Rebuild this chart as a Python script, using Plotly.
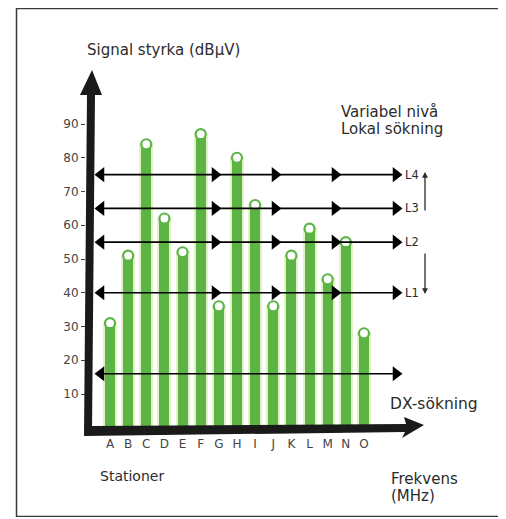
import plotly.graph_objects as go

# ---- data ----
stations = ["A", "B", "C", "D", "E", "F", "G", "H", "I", "J", "K", "L", "M", "N", "O"]
signal = [31, 51, 84, 62, 52, 87, 36, 80, 66, 36, 51, 59, 44, 55, 28]
local_levels = [75, 65, 55, 40]
local_labels = ["L4", "L3", "L2", "L1"]
dx_level = 16
y_ticks = [10, 20, 30, 40, 50, 60, 70, 80, 90]

# ---- layout geometry (screen pixels; page body has an 8px margin) ----
OFF = 8
FW, FH = 490, 509
PL, PT, PR, PB = 86, 60, 440, 435          # plot area edges on screen
ML, MT = PL - OFF, PT - OFF
MR, MB = FW - (PR - OFF), FH - (PB - OFF)
W, H = PR - PL, PB - PT
X0_PX, DX_PX = 110.0, 18.14          # pixel of first station, station spacing
Y0_PX, DY_PX = 427.75, 3.375         # pixel of value 0, pixels per unit

x_range = [(PL - X0_PX) / DX_PX, (PR - X0_PX) / DX_PX]
y_range = [(Y0_PX - PB) / DY_PX, (Y0_PX - PT) / DY_PX]

def px(x):
    return (x - PL) / W

def py(y):
    return (PB - y) / H

def dx(p):
    return (p - X0_PX) / DX_PX

GREEN = "#5cb445"
PALE = "#e2f2c6"
INK = "#2b2b2b"
FONT = "DejaVu Sans"

xs = list(range(len(stations)))
fig = go.Figure()

# bars
fig.add_trace(go.Bar(
    x=xs, y=signal, width=0.66,
    marker=dict(color=GREEN, line=dict(color=PALE, width=2)),
    hoverinfo="skip", showlegend=False,
))
# bar top circles
fig.add_trace(go.Scatter(
    x=xs, y=signal, mode="markers",
    marker=dict(symbol="circle", size=10, color="white", line=dict(color=GREEN, width=2.2)),
    hoverinfo="skip", showlegend=False,
))

# level lines
left_x, right_x = dx(96), dx(401)
head_l, head_r = dx(101), dx(396)
mids = [dx(215), dx(275), dx(335)]
for lv in local_levels + [dx_level]:
    fig.add_trace(go.Scatter(
        x=[left_x, right_x], y=[lv, lv], mode="lines",
        line=dict(color="black", width=1.6), hoverinfo="skip", showlegend=False,
    ))
    fig.add_trace(go.Scatter(
        x=[head_l], y=[lv], mode="markers",
        marker=dict(symbol="triangle-left", size=13, color="black"),
        hoverinfo="skip", showlegend=False,
    ))
    rx = [head_r] + (mids if lv != dx_level else [])
    fig.add_trace(go.Scatter(
        x=rx, y=[lv] * len(rx), mode="markers",
        marker=dict(symbol="triangle-right", size=13, color="black"),
        hoverinfo="skip", showlegend=False,
    ))

shapes = []
# frame (left, top and bottom edges)
for (a, b, c, d) in [(16, 8.5, 498, 8.5), (16.5, 8, 16.5, 517), (16, 516.5, 498, 516.5)]:
    shapes.append(dict(type="line", xref="paper", yref="paper",
                       x0=px(a), y0=py(b), x1=px(c), y1=py(d),
                       line=dict(color="#3a3a3a", width=1.5)))

def path(pts):
    return "M " + " L ".join(f"{px(a):.5f},{py(b):.5f}" for a, b in pts) + " Z"

# y axis arrow (thick)
shapes.append(dict(type="path", xref="paper", yref="paper",
                   path=path([(84, 436), (92, 431), (95, 95), (102, 95), (92, 70), (80, 95), (87, 95)]),
                   fillcolor="#1a1a1a", line=dict(width=0)))
# floor / x axis arrow
shapes.append(dict(type="path", xref="paper", yref="paper",
                   path=path([(84, 436), (92, 426), (406, 424), (404, 417), (424, 425), (402, 438), (405, 432)]),
                   fillcolor="#1a1a1a", line=dict(width=0)))

annotations = []
def txt(s, x, y, size):
    annotations.append(dict(text=s, x=px(x), y=py(y), xref="paper", yref="paper",
                            xanchor="left", yanchor="middle", showarrow=False,
                            font=dict(family=FONT, size=size, color=INK)))

txt("Signal styrka (dBμV)", 85, 50, 15)
txt("Variabel nivå", 339, 112, 15)
txt("Lokal sökning", 339, 129, 15)
txt("DX-sökning", 388, 404, 15.5)
txt("Stationer", 98, 476, 14)
txt("Frekvens", 389, 479, 15)
txt("(MHz)", 389, 496, 15)
for lab, lv in zip(local_labels, local_levels):
    annotations.append(dict(text=lab, x=dx(403), y=lv, xref="x", yref="y",
                            xanchor="left", yanchor="middle", showarrow=False,
                            font=dict(family=FONT, size=11.5, color=INK)))
# small vertical arrows
annotations.append(dict(text="", x=px(425), y=py(172), xref="paper", yref="paper",
                        ax=0, ay=40, showarrow=True, arrowhead=2, arrowsize=0.9,
                        arrowwidth=1.3, arrowcolor=INK))
annotations.append(dict(text="", x=px(425), y=py(294), xref="paper", yref="paper",
                        ax=0, ay=-42, showarrow=True, arrowhead=2, arrowsize=0.9,
                        arrowwidth=1.3, arrowcolor=INK))

fig.update_layout(
    width=FW, height=FH,
    margin=dict(l=ML, r=MR, t=MT, b=MB),
    paper_bgcolor="white", plot_bgcolor="white",
    shapes=shapes, annotations=annotations,
    showlegend=False, bargap=0,
)
fig.update_xaxes(range=x_range, tickvals=xs, ticktext=stations, showgrid=False,
                 zeroline=False, showline=False, ticks="",
                 tickfont=dict(family=FONT, size=12, color="#444"))
fig.update_yaxes(range=y_range, tickvals=y_ticks, showgrid=False, zeroline=False,
                 showline=False, ticks="outside", ticklen=4, tickwidth=1.2, tickcolor="#444",
                 tickfont=dict(family=FONT, size=12, color="#444"))

fig.write_html("out.html")
